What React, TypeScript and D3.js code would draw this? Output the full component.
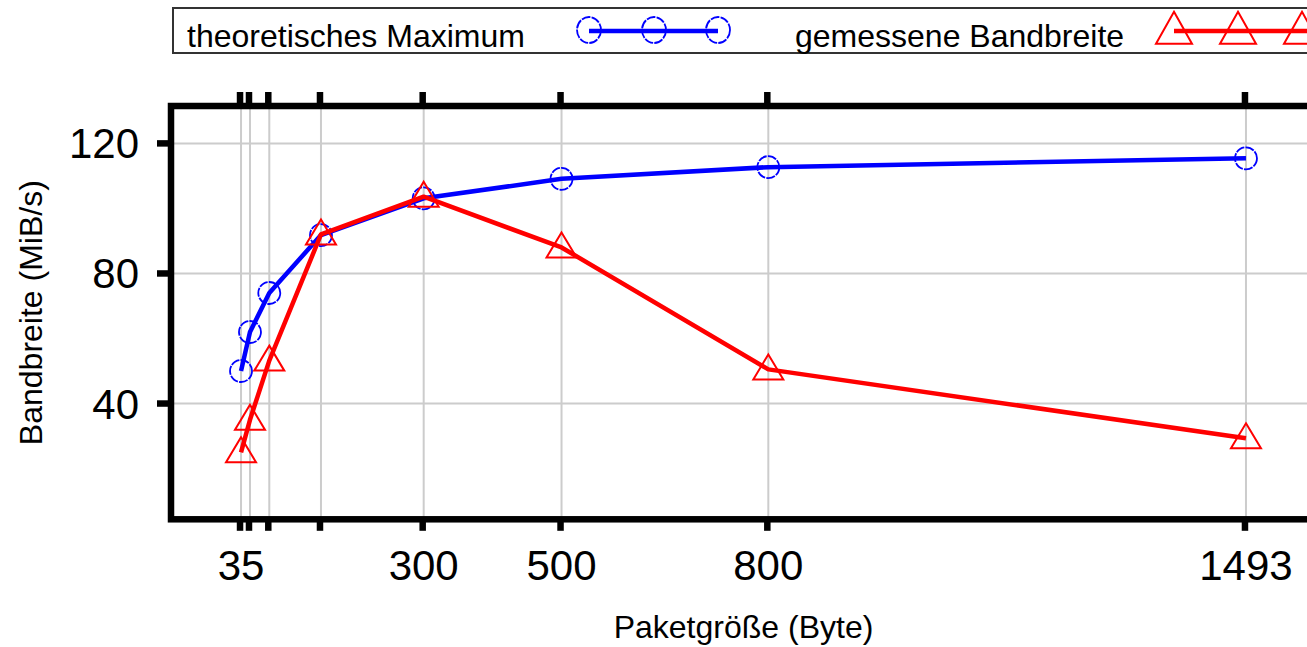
import React from "react";
import * as d3 from "d3";

const packetSizes = [35, 48, 76, 151, 300, 500, 800, 1493];
const theoretical = [50, 62, 74, 91.8, 103.1, 109.1, 112.7, 115.4];
const measured = [25, 35, 53.2, 92, 103.6, 88, 50.5, 29.3];
const xLabeledTicks = [35, 300, 500, 800, 1493];
const yTicks = [40, 80, 120];
const seriesNames = ["theoretisches Maximum", "gemessene Bandbreite"];
const xTitle = "Paketgröße (Byte)";
const yTitle = "Bandbreite (MiB/s)";

const W = 1307;
const H = 647;
const FONT = "'Liberation Sans', Arial, Helvetica, sans-serif";

export default function App() {
  const x = d3.scaleLinear().domain([-66.6, 1594.6]).range([171, 1316]);
  const y = d3.scaleLinear().domain([4.4, 131.5]).range([519.3, 106]);

  const line = d3
    .line<[number, number]>()
    .x((d) => x(d[0]))
    .y((d) => y(d[1]));

  const blueData: [number, number][] = packetSizes.map((p, i) => [p, theoretical[i]]);
  const redData: [number, number][] = packetSizes.map((p, i) => [p, measured[i]]);

  const tri = (cx: number, cy: number, w: number, h: number) =>
    `M${cx},${cy - 0.6 * h} L${cx + w / 2},${cy + 0.4 * h} L${cx - w / 2},${cy + 0.4 * h} Z`;

  const plotL = x.range()[0];
  const plotR = x.range()[1];
  const plotT = y.range()[1];
  const plotB = y.range()[0];

  const legendBlueX = [589, 654, 718];
  const legendRedX = [1174, 1238, 1302];

  return (
    <svg
      width={W}
      height={H}
      style={{ position: "absolute", left: 0, top: 0, background: "#fff" }}
      fontFamily={FONT}
    >
      <rect x={0} y={0} width={W} height={H} fill="#fff" />
      {/* grid */}
      {packetSizes.map((p) => (
        <line key={"gx" + p} x1={x(p)} x2={x(p)} y1={plotT} y2={plotB} stroke="#cccccc" strokeWidth={2} />
      ))}
      {yTicks.map((t) => (
        <line key={"gy" + t} x1={plotL} x2={plotR} y1={y(t)} y2={y(t)} stroke="#cccccc" strokeWidth={2} />
      ))}

      {/* blue series */}
      <path d={line(blueData) || ""} fill="none" stroke="#0000ff" strokeWidth={4.5} strokeLinejoin="round" />
      {blueData.map((d, i) => (
        <circle
          key={"bm" + i}
          cx={x(d[0])}
          cy={y(d[1])}
          r={11}
          fill="none"
          stroke="#0000ff"
          strokeWidth={1.8}
          strokeDasharray="9 1.2"
        />
      ))}

      {/* red series */}
      <path d={line(redData) || ""} fill="none" stroke="#ff0000" strokeWidth={4.5} strokeLinejoin="round" />
      {redData.map((d, i) => (
        <path key={"rm" + i} d={tri(x(d[0]), y(d[1]), 30, 25)} fill="none" stroke="#ff0000" strokeWidth={2} />
      ))}

      {/* frame */}
      <rect
        x={plotL}
        y={plotT}
        width={plotR - plotL}
        height={plotB - plotT}
        fill="none"
        stroke="#000"
        strokeWidth={6.5}
      />

      {/* x ticks top and bottom */}
      {packetSizes.map((p) => (
        <g key={"tx" + p}>
          <line x1={x(p) - 1} x2={x(p) - 1} y1={plotT} y2={plotT - 14} stroke="#000" strokeWidth={6.5} />
          <line x1={x(p) - 1} x2={x(p) - 1} y1={plotB} y2={plotB + 11.5} stroke="#000" strokeWidth={6.5} />
        </g>
      ))}
      {/* y ticks */}
      {yTicks.map((t) => (
        <line key={"ty" + t} x1={plotL} x2={plotL - 14} y1={y(t)} y2={y(t)} stroke="#000" strokeWidth={6.5} />
      ))}

      {/* tick labels */}
      {xLabeledTicks.map((t) => (
        <text key={"lx" + t} x={x(t)} y={580} textAnchor="middle" fontSize={42} fill="#000">
          {t}
        </text>
      ))}
      {yTicks.map((t) => (
        <text key={"ly" + t} x={139} y={y(t) + 15} textAnchor="end" fontSize={42} fill="#000">
          {t}
        </text>
      ))}

      {/* axis titles */}
      <text x={(plotL + plotR) / 2} y={638} textAnchor="middle" fontSize={32} fill="#000">
        {xTitle}
      </text>
      <text
        transform={`translate(42, ${(plotT + plotB) / 2}) rotate(-90)`}
        textAnchor="middle"
        fontSize={32}
        fill="#000"
      >
        {yTitle}
      </text>

      {/* legend */}
      <rect x={173} y={8} width={1200} height={45} fill="#fff" stroke="#333" strokeWidth={2} />
      <text x={187} y={47} fontSize={32} fill="#000">
        {seriesNames[0]}
      </text>
      <line x1={legendBlueX[0]} x2={legendBlueX[2]} y1={31} y2={31} stroke="#0000ff" strokeWidth={4.5} />
      {legendBlueX.map((lx) => (
        <ellipse
          key={"lb" + lx}
          cx={lx}
          cy={30}
          rx={12}
          ry={13}
          fill="none"
          stroke="#0000ff"
          strokeWidth={1.8}
          strokeDasharray="9 1.2"
        />
      ))}
      <text x={795} y={47} fontSize={32} fill="#000">
        {seriesNames[1]}
      </text>
      <line x1={legendRedX[0]} x2={W + 20} y1={31} y2={31} stroke="#ff0000" strokeWidth={4.5} />
      {legendRedX.map((lx) => (
        <path key={"lr" + lx} d={tri(lx, 31, 36, 32)} fill="none" stroke="#ff0000" strokeWidth={2} />
      ))}
    </svg>
  );
}
